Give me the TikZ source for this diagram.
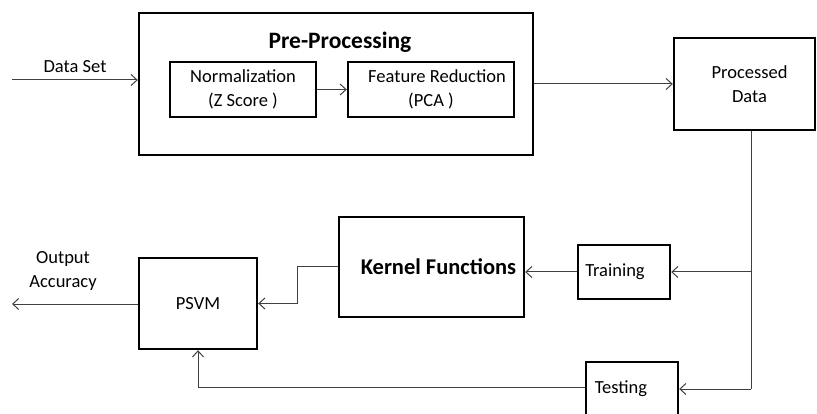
\documentclass[tikz,border=0pt]{standalone}
\usepackage{fontspec}
\setmainfont{Carlito}
\usetikzlibrary{arrows.meta,positioning,calc}
\definecolor{wire}{HTML}{404040}
\tikzset{
  box/.style={draw=black, line width=2.4pt, inner sep=0pt, align=center,
    font=\fontsize{18.5}{23.5}\selectfont},
  head/.style={font=\fontsize{23}{27}\selectfont\bfseries},
  lbl/.style={align=center, inner sep=0pt, font=\fontsize{18.5}{23.5}\selectfont},
  arr/.style={-{Straight Barb[length=6pt,width=11pt]}, line width=1pt, wire},
  wireline/.style={line width=1pt, wire},
}
\begin{document}
\begin{tikzpicture}[x=1pt,y=-1pt]
  \useasboundingbox (0,0) rectangle (817,414);
  % pre-processing stage
  \node[box, minimum width=394pt, minimum height=142pt] (pre) at (336,84) {};
  \node[head, font=\fontsize{23.5}{27}\selectfont\bfseries] (prettl) at (340,42) {Pre-Processing};
  \node[box, minimum width=146pt, minimum height=55pt] (norm) at (243,89.5) {Normalization\\(Z Score )};
  \node[box, minimum width=166pt, minimum height=55pt] (feat) at (431,89.5) {\hspace*{12pt}Feature Reduction\\(PCA )};
  \node[box, minimum width=141pt, minimum height=92pt] (proc) at (744.5,84) {\hspace*{10pt}Processed\\\hspace*{10pt}Data};
  % classification stage
  \node[box, minimum width=185pt, minimum height=100pt, head, font=\fontsize{22.5}{27}\selectfont\bfseries] (kern) at (431.5,267) {\hspace*{14pt}Kernel Functions};
  \node[box, minimum width=92pt, minimum height=54pt] (train) at (624,272) {Training\hspace*{18pt}};
  \node[box, minimum width=92pt, minimum height=62pt] (test) at (632,393) {\raisebox{0pt}[0pt][0pt]{Testing}\hspace*{22pt}};
  \node[box, minimum width=118pt, minimum height=91pt] (psvm) at (198,303.5) {PSVM};
  % inputs and outputs
  \coordinate (dsin) at (12,80);
  \coordinate (accout) at (12,304);
  \node[lbl] (dslbl) at (75,67) {Data Set};
  \node[lbl] (acclbl) at (63,271) {Output\\Accuracy};
  % connectors
  \draw[arr] (dsin) -- (dsin -| pre.west);
  \draw[arr] (norm.east) -- (feat.west);
  \draw[arr] (pre.east) -- (proc.west);
  \coordinate (tap) at ([xshift=6.5pt]proc.south);
  \coordinate (testin) at ([yshift=4pt]test.east);
  \draw[wireline] (tap) -- (tap |- testin);
  \draw[arr] (tap |- testin) -- (testin);
  \draw[arr] (tap |- train.east) -- (train.east);
  \draw[arr] (train.west) -- (train.west -| kern.east);
  \draw[arr] (kern.west) -- ++(-40,0) |- (psvm.east);
  \draw[arr] ([yshift=6pt]test.west) -| (psvm.south);
  \draw[arr] (psvm.west |- accout) -- (accout);
\end{tikzpicture}
\end{document}
